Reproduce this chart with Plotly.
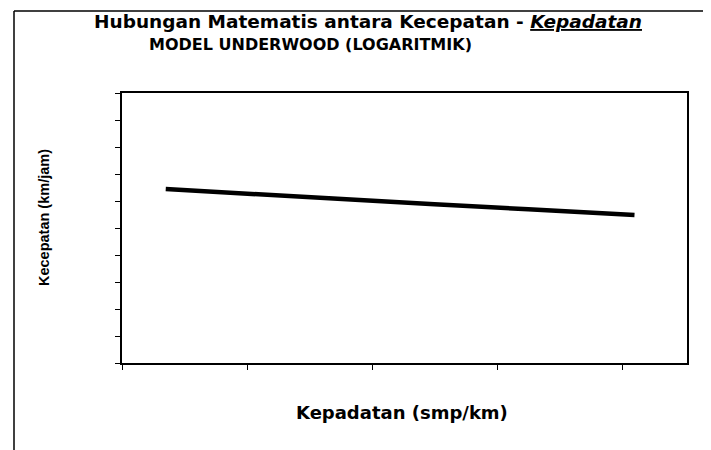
import plotly.graph_objects as go

# Data (no tick labels printed; scale assumed 0-100 / 0-90)
kepadatan = [7, 20, 35, 50, 65, 82]          # smp/km
kecepatan = [64.4, 62.6, 60.7, 58.8, 56.9, 54.8]  # km/jam

title_1 = "Hubungan Matematis antara Kecepatan - <i><span style='text-decoration:underline'>Kepadatan</span></i>"
title_2 = "MODEL UNDERWOOD (LOGARITMIK)"
x_title = "Kepadatan (smp/km)"
y_title = "Kecepatan (km/jam)"

W, H = 711, 450
OFF = 8  # page body margin of the browser
# target plot-area position on screen
SL, ST, SR, SB = 122, 93, 687, 363
pw, ph = SR - SL, SB - ST
L, T = SL - OFF, ST - OFF
R = W - L - pw
B = H - T - ph

def px(x):
    return (x - SL) / pw

def py(y):
    return (SB - y) / ph

fig = go.Figure()
fig.add_trace(go.Scatter(
    x=kepadatan, y=kecepatan, mode="lines",
    line=dict(color="black", width=4.5),
    showlegend=False, hoverinfo="skip",
))

axis_common = dict(
    showgrid=False, zeroline=False, showticklabels=False,
    showline=True, linecolor="black", linewidth=1.5, mirror=True,
    ticks="outside", ticklen=5, tickwidth=1, tickcolor="black",
)
fig.update_xaxes(range=[0, 90.4], tick0=0, dtick=20, **axis_common)
fig.update_yaxes(range=[0, 100], tick0=0, dtick=10, **axis_common)

font_b = "DejaVu Sans"
anns = [
    dict(text="<b>" + title_1 + "</b>", x=px(368), y=py(21), size=18.5),
    dict(text="<b>" + title_2 + "</b>", x=px(310), y=py(45), size=16),
    dict(text="<b>" + x_title + "</b>", x=px(402), y=py(412), size=18),
]
for a in anns:
    fig.add_annotation(text=a["text"], x=a["x"], y=a["y"], xref="paper", yref="paper",
                       xanchor="center", yanchor="middle", showarrow=False,
                       font=dict(family=font_b, size=a["size"], color="black"))
fig.add_annotation(text="<b>" + y_title + "</b>", x=px(44), y=py(218), xref="paper", yref="paper",
                   xanchor="center", yanchor="middle", showarrow=False, textangle=-90,
                   font=dict(family="Liberation Sans Narrow, Liberation Sans", size=14.5, color="black"))

# outer chart-area frame (partly cut off by the scan)
fig.add_shape(type="line", xref="paper", yref="paper",
              x0=px(14), x1=px(720), y0=py(11), y1=py(11), line=dict(color="black", width=1.5))
fig.add_shape(type="line", xref="paper", yref="paper",
              x0=px(14), x1=px(14), y0=py(11), y1=py(455), line=dict(color="black", width=1.5))

fig.update_layout(
    width=W, height=H,
    margin=dict(l=L, r=R, t=T, b=B),
    paper_bgcolor="white", plot_bgcolor="white",
)
fig.write_html("out.html")
